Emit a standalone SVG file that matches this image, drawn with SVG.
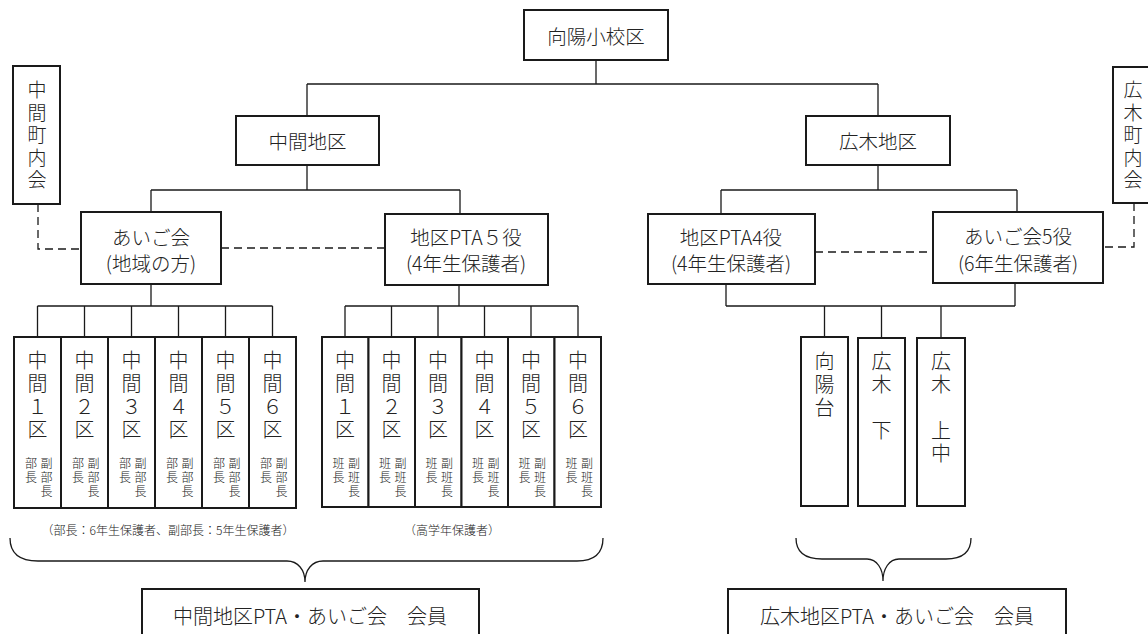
<svg xmlns="http://www.w3.org/2000/svg" width="1148" height="634" viewBox="0 0 1148 634">
<style>
.box{fill:#fff;stroke:#1a1a1a;stroke-width:2}
.t{font-family:"Noto Sans CJK JP","Noto Sans CJK SC",sans-serif;font-weight:300;fill:#222;text-anchor:middle;dominant-baseline:central;font-size:19.5px}
.v{font-size:19px}
.s{font-size:12px}
.b{font-size:20px}
.conn{stroke:#1a1a1a;stroke-width:1.3;fill:none}
.dash{stroke-dasharray:8 5}
</style>
<rect width="1148" height="634" fill="#fff"/>
<g id="connectors">
  <path class="conn" d="M596,60V84M307,84H878M307,84V116M878,84V116"/>
  <path class="conn" d="M307,165V190M151,190H460M151,190V212M460,190V214"/>
  <path class="conn" d="M878,165V190M721,190H1017M721,190V214M1017,190V212"/>
  <path class="conn dash" d="M221,248H385"/>
  <path class="conn dash" d="M38,204V249H81"/>
  <path class="conn dash" d="M815,252H933"/>
  <path class="conn dash" d="M1134,203V247H1103"/>
  <path class="conn" d="M151,284V306M37.5,306H272.5M37.5,306V337M84.5,306V337M131.5,306V337M178.5,306V337M225.5,306V337M272.5,306V337"/>
  <path class="conn" d="M459,285V306M345,306H578M345,306V337M391.5,306V337M438,306V337M484.5,306V337M531,306V337M578,306V337"/>
  <path class="conn" d="M726,284V306M1015,283V306M726,306H1015M824.5,306V337M881.5,306V338M941,306V338"/>
  <path class="conn" d="M10,538C10,554 20,561 38,561L287,561C298,561 305,570 305,582C305,570 312,561 323,561L577,561C594,561 603,554 603,538"/>
  <path class="conn" d="M796,538C796,552 805,559 822,559L867,559C877,559 883,569 883,581C883,569 889,559 899,559L946,559C962,559 971,552 971,538"/>
</g>
<g id="n-koyo">
  <rect class="box" x="524" y="10" width="144" height="50"/>
  <text class="t" x="596" y="35">向陽小校区</text>
</g>
<g id="n-nakama">
  <rect class="box" x="236" y="116" width="143" height="49"/>
  <text class="t" x="307.5" y="140.5">中間地区</text>
</g>
<g id="n-hiroki">
  <rect class="box" x="806" y="116" width="144" height="49"/>
  <text class="t" x="878" y="140.5">広木地区</text>
</g>
<g id="n-nakama-chonaikai">
  <rect class="box" x="13" y="66" width="47" height="138"/>
  <text class="t v" x="37"><tspan x="37" y="88">中</tspan><tspan x="37" y="110.5">間</tspan><tspan x="37" y="133">町</tspan><tspan x="37" y="155.5">内</tspan><tspan x="37" y="178">会</tspan></text>
</g>
<g id="n-hiroki-chonaikai">
  <rect class="box" x="1113" y="67" width="50" height="136"/>
  <text class="t v" x="1133"><tspan x="1133" y="88">広</tspan><tspan x="1133" y="110.5">木</tspan><tspan x="1133" y="133">町</tspan><tspan x="1133" y="155.5">内</tspan><tspan x="1133" y="178">会</tspan></text>
</g>
<g id="n-aigo-nakama">
  <rect class="box" x="81" y="212" width="140" height="72"/>
  <text class="t" x="151" y="236">あいご会</text>
  <text class="t" x="151" y="262.5">(地域の方)</text>
</g>
<g id="n-pta5">
  <rect class="box" x="385" y="214" width="163" height="71"/>
  <text class="t" x="466" y="236">地区PTA５役</text>
  <text class="t" x="466" y="262.5">(4年生保護者)</text>
</g>
<g id="n-pta4">
  <rect class="box" x="648" y="214" width="167" height="70"/>
  <text class="t" x="731" y="236">地区PTA4役</text>
  <text class="t" x="731" y="262.5">(4年生保護者)</text>
</g>
<g id="n-aigo5">
  <rect class="box" x="933" y="212" width="170" height="71"/>
  <text class="t" x="1018" y="235.5">あいご会5役</text>
  <text class="t" x="1018" y="262.5">(6年生保護者)</text>
</g>
<g id="n-nk1">
  <rect class="box" x="14" y="337" width="47" height="171"/>
  <text class="t b"><tspan x="37.5" y="359">中</tspan><tspan x="37.5" y="382">間</tspan><tspan x="37.5" y="405">１</tspan><tspan x="37.5" y="428">区</tspan></text>
  <text class="t s"><tspan x="31" y="462">部</tspan><tspan x="31" y="476">長</tspan></text>
  <text class="t s"><tspan x="46.5" y="462">副</tspan><tspan x="46.5" y="476">部</tspan><tspan x="46.5" y="490">長</tspan></text>
</g>
<g id="n-nk2">
  <rect class="box" x="61" y="337" width="47" height="171"/>
  <text class="t b"><tspan x="84.5" y="359">中</tspan><tspan x="84.5" y="382">間</tspan><tspan x="84.5" y="405">２</tspan><tspan x="84.5" y="428">区</tspan></text>
  <text class="t s"><tspan x="78" y="462">部</tspan><tspan x="78" y="476">長</tspan></text>
  <text class="t s"><tspan x="93.5" y="462">副</tspan><tspan x="93.5" y="476">部</tspan><tspan x="93.5" y="490">長</tspan></text>
</g>
<g id="n-nk3">
  <rect class="box" x="108" y="337" width="47" height="171"/>
  <text class="t b"><tspan x="131.5" y="359">中</tspan><tspan x="131.5" y="382">間</tspan><tspan x="131.5" y="405">３</tspan><tspan x="131.5" y="428">区</tspan></text>
  <text class="t s"><tspan x="125" y="462">部</tspan><tspan x="125" y="476">長</tspan></text>
  <text class="t s"><tspan x="140.5" y="462">副</tspan><tspan x="140.5" y="476">部</tspan><tspan x="140.5" y="490">長</tspan></text>
</g>
<g id="n-nk4">
  <rect class="box" x="155" y="337" width="47" height="171"/>
  <text class="t b"><tspan x="178.5" y="359">中</tspan><tspan x="178.5" y="382">間</tspan><tspan x="178.5" y="405">４</tspan><tspan x="178.5" y="428">区</tspan></text>
  <text class="t s"><tspan x="172" y="462">部</tspan><tspan x="172" y="476">長</tspan></text>
  <text class="t s"><tspan x="187.5" y="462">副</tspan><tspan x="187.5" y="476">部</tspan><tspan x="187.5" y="490">長</tspan></text>
</g>
<g id="n-nk5">
  <rect class="box" x="202" y="337" width="47" height="171"/>
  <text class="t b"><tspan x="225.5" y="359">中</tspan><tspan x="225.5" y="382">間</tspan><tspan x="225.5" y="405">５</tspan><tspan x="225.5" y="428">区</tspan></text>
  <text class="t s"><tspan x="219" y="462">部</tspan><tspan x="219" y="476">長</tspan></text>
  <text class="t s"><tspan x="234.5" y="462">副</tspan><tspan x="234.5" y="476">部</tspan><tspan x="234.5" y="490">長</tspan></text>
</g>
<g id="n-nk6">
  <rect class="box" x="249" y="337" width="47" height="171"/>
  <text class="t b"><tspan x="272.5" y="359">中</tspan><tspan x="272.5" y="382">間</tspan><tspan x="272.5" y="405">６</tspan><tspan x="272.5" y="428">区</tspan></text>
  <text class="t s"><tspan x="266" y="462">部</tspan><tspan x="266" y="476">長</tspan></text>
  <text class="t s"><tspan x="281.5" y="462">副</tspan><tspan x="281.5" y="476">部</tspan><tspan x="281.5" y="490">長</tspan></text>
</g>
<g id="n-nh1">
  <rect class="box" x="322" y="337" width="46.5" height="170"/>
  <text class="t b"><tspan x="345" y="359">中</tspan><tspan x="345" y="382">間</tspan><tspan x="345" y="405">１</tspan><tspan x="345" y="428">区</tspan></text>
  <text class="t s"><tspan x="338.5" y="462">班</tspan><tspan x="338.5" y="476">長</tspan></text>
  <text class="t s"><tspan x="354" y="462">副</tspan><tspan x="354" y="476">班</tspan><tspan x="354" y="490">長</tspan></text>
</g>
<g id="n-nh2">
  <rect class="box" x="368.5" y="337" width="46.5" height="170"/>
  <text class="t b"><tspan x="391.5" y="359">中</tspan><tspan x="391.5" y="382">間</tspan><tspan x="391.5" y="405">２</tspan><tspan x="391.5" y="428">区</tspan></text>
  <text class="t s"><tspan x="385" y="462">班</tspan><tspan x="385" y="476">長</tspan></text>
  <text class="t s"><tspan x="400.5" y="462">副</tspan><tspan x="400.5" y="476">班</tspan><tspan x="400.5" y="490">長</tspan></text>
</g>
<g id="n-nh3">
  <rect class="box" x="415" y="337" width="46.5" height="170"/>
  <text class="t b"><tspan x="438" y="359">中</tspan><tspan x="438" y="382">間</tspan><tspan x="438" y="405">３</tspan><tspan x="438" y="428">区</tspan></text>
  <text class="t s"><tspan x="431.5" y="462">班</tspan><tspan x="431.5" y="476">長</tspan></text>
  <text class="t s"><tspan x="447" y="462">副</tspan><tspan x="447" y="476">班</tspan><tspan x="447" y="490">長</tspan></text>
</g>
<g id="n-nh4">
  <rect class="box" x="461.5" y="337" width="46.5" height="170"/>
  <text class="t b"><tspan x="484.5" y="359">中</tspan><tspan x="484.5" y="382">間</tspan><tspan x="484.5" y="405">４</tspan><tspan x="484.5" y="428">区</tspan></text>
  <text class="t s"><tspan x="478" y="462">班</tspan><tspan x="478" y="476">長</tspan></text>
  <text class="t s"><tspan x="493.5" y="462">副</tspan><tspan x="493.5" y="476">班</tspan><tspan x="493.5" y="490">長</tspan></text>
</g>
<g id="n-nh5">
  <rect class="box" x="508" y="337" width="46.5" height="170"/>
  <text class="t b"><tspan x="531" y="359">中</tspan><tspan x="531" y="382">間</tspan><tspan x="531" y="405">５</tspan><tspan x="531" y="428">区</tspan></text>
  <text class="t s"><tspan x="524.5" y="462">班</tspan><tspan x="524.5" y="476">長</tspan></text>
  <text class="t s"><tspan x="540" y="462">副</tspan><tspan x="540" y="476">班</tspan><tspan x="540" y="490">長</tspan></text>
</g>
<g id="n-nh6">
  <rect class="box" x="554.5" y="337" width="46.5" height="170"/>
  <text class="t b"><tspan x="578" y="359">中</tspan><tspan x="578" y="382">間</tspan><tspan x="578" y="405">６</tspan><tspan x="578" y="428">区</tspan></text>
  <text class="t s"><tspan x="571.5" y="462">班</tspan><tspan x="571.5" y="476">長</tspan></text>
  <text class="t s"><tspan x="587" y="462">副</tspan><tspan x="587" y="476">班</tspan><tspan x="587" y="490">長</tspan></text>
</g>
<g id="n-koyodai">
  <rect class="box" x="801" y="337" width="47" height="169"/>
  <text class="t b"><tspan x="824.5" y="360">向</tspan><tspan x="824.5" y="383">陽</tspan><tspan x="824.5" y="406">台</tspan></text>
</g>
<g id="n-hiroki-shita">
  <rect class="box" x="858" y="338" width="47" height="168"/>
  <text class="t b"><tspan x="881.5" y="360">広</tspan><tspan x="881.5" y="383">木</tspan><tspan x="881.5" y="429">下</tspan></text>
</g>
<g id="n-hiroki-kaminaka">
  <rect class="box" x="917" y="338" width="48" height="168"/>
  <text class="t b"><tspan x="941" y="360">広</tspan><tspan x="941" y="383">木</tspan><tspan x="941" y="429">上</tspan><tspan x="941" y="452">中</tspan></text>
</g>
<g id="captions">
  <text class="t s" x="168" y="529">（部長：6年生保護者、副部長：5年生保護者）</text>
  <text class="t s" x="452" y="529">（高学年保護者）</text>
</g>
<g id="n-nakama-members">
  <rect class="box" x="142" y="589" width="337" height="70"/>
  <text class="t b" x="310" y="615">中間地区PTA・あいご会　会員</text>
</g>
<g id="n-hiroki-members">
  <rect class="box" x="728" y="589" width="338" height="70"/>
  <text class="t b" x="897" y="615">広木地区PTA・あいご会　会員</text>
</g>
</svg>
